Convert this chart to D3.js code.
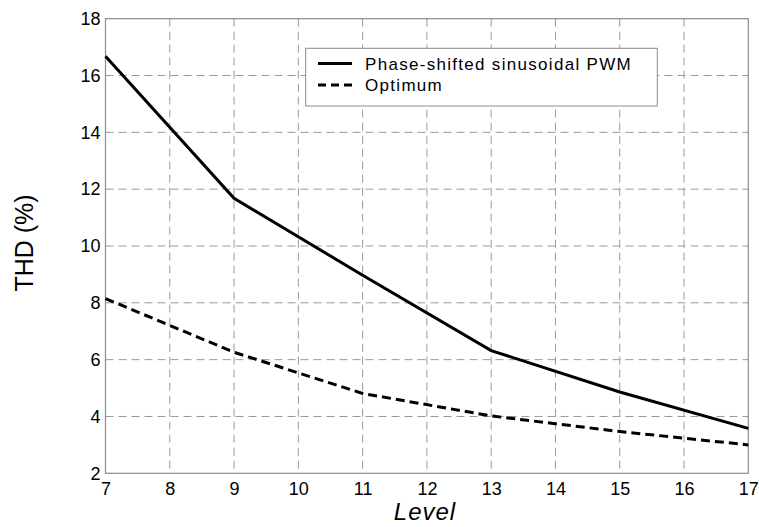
<!DOCTYPE html>
<html><head><meta charset="utf-8">
<script src="https://cdn.jsdelivr.net/npm/d3@7"></script>
<style>body{margin:0;background:#fff}svg{display:block}</style>
</head><body>
<svg id="c" width="759" height="527"></svg>
<script>
const levels = [7, 9, 11, 13, 15, 17];
const psPWM = [16.68, 11.68, 8.97, 6.32, 4.86, 3.58];
const optimum = [8.15, 6.26, 4.81, 4.02, 3.47, 3.0];
const xTicks = [7, 8, 9, 10, 11, 12, 13, 14, 15, 16, 17];
const yTicks = [2, 4, 6, 8, 10, 12, 14, 16, 18];
const seriesNames = ["Phase-shifted sinusoidal PWM", "Optimum"];

const svg = d3.select("#c");
const L = 105.5, R = 748.3, T = 18.7, B = 473.3;
const x = d3.scaleLinear().domain([7, 17]).range([L, R]);
const y = d3.scaleLinear().domain([2, 18]).range([B, T]);
const font = "'Liberation Sans', Arial, Helvetica, sans-serif";

// grid
const g = svg.append("g");
g.selectAll(".vx").data(xTicks.slice(1, -1)).enter().append("line")
  .attr("x1", d => x(d)).attr("x2", d => x(d)).attr("y1", T).attr("y2", B)
  .attr("stroke", "#9a9a9a").attr("stroke-width", 1).attr("stroke-dasharray", "8,5");
g.selectAll(".hy").data(yTicks.slice(1, -1)).enter().append("line")
  .attr("y1", d => y(d)).attr("y2", d => y(d)).attr("x1", L).attr("x2", R)
  .attr("stroke", "#9a9a9a").attr("stroke-width", 1).attr("stroke-dasharray", "8,5");

// frame
svg.append("rect").attr("x", L).attr("y", T).attr("width", R - L).attr("height", B - T)
  .attr("fill", "none").attr("stroke", "#8c8c8c").attr("stroke-width", 1.2);

// axes labels
const xAxis = d3.axisBottom(x).tickValues(xTicks).tickSize(0).tickPadding(9);
const xa = svg.append("g").attr("transform", `translate(0,${B})`).call(xAxis);
xa.select(".domain").remove();
xa.selectAll("text").attr("font-family", font).attr("font-size", 18).attr("fill", "#000");
const yAxis = d3.axisLeft(y).tickValues(yTicks).tickSize(0).tickPadding(5);
const ya = svg.append("g").attr("transform", `translate(${L},0)`).call(yAxis);
ya.select(".domain").remove();
ya.selectAll("text").attr("font-family", font).attr("font-size", 18).attr("fill", "#000");

// lines
const line = d3.line().x((d, i) => x(levels[i])).y(d => y(d));
svg.append("path").datum(psPWM).attr("d", line).attr("fill", "none")
  .attr("stroke", "#000").attr("stroke-width", 3);
svg.append("path").datum(optimum).attr("d", line).attr("fill", "none")
  .attr("stroke", "#000").attr("stroke-width", 3).attr("stroke-dasharray", "9,5");

// legend
const lg = svg.append("g");
lg.append("rect").attr("x", 305.7).attr("y", 48.3).attr("width", 351.6).attr("height", 57.7)
  .attr("fill", "#fff").attr("stroke", "#8c8c8c").attr("stroke-width", 1);
seriesNames.forEach((n, i) => {
  const yy = 63.5 + i * 21.5;
  lg.append("line").attr("x1", 318).attr("x2", 352).attr("y1", yy).attr("y2", yy)
    .attr("stroke", "#000").attr("stroke-width", 3)
    .attr("stroke-dasharray", i === 1 ? "8,5" : null);
  lg.append("text").attr("x", 365).attr("y", yy).attr("dy", "0.36em")
    .attr("font-family", font).attr("font-size", 17).attr("letter-spacing", "1.3px")
    .attr("fill", "#000").text(n);
});

// titles
svg.append("text").attr("x", 425).attr("y", 520).attr("text-anchor", "middle")
  .attr("font-family", font).attr("font-size", 24).attr("font-style", "italic")
  .attr("letter-spacing", "1px").text("Level");
svg.append("text").attr("transform", `translate(33,243) rotate(-90)`)
  .attr("text-anchor", "middle").attr("font-family", font).attr("font-size", 25).text("THD (%)");
</script>
</body></html>
